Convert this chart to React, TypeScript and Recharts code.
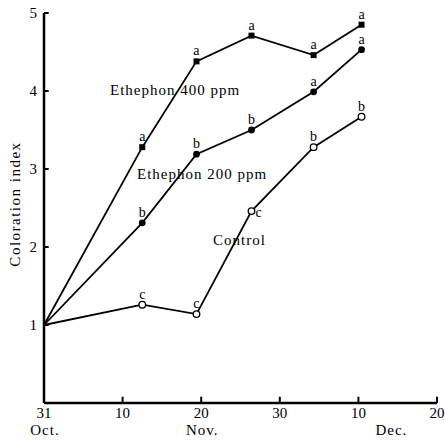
import React from 'react';
import { LineChart, Line, XAxis, YAxis, LabelList, Customized, ReferenceLine } from 'recharts';

// days after 31 Oct
const sampleDays = [0, 12.5, 19.4, 26.4, 34.3, 40.4];
const ethephon400 = [1.0, 3.28, 4.38, 4.71, 4.46, 4.85];
const ethephon200 = [1.0, 2.31, 3.19, 3.5, 3.99, 4.53];
const control = [1.0, 1.26, 1.14, 2.46, 3.28, 3.67];
const letters400 = ['', 'a', 'a', 'a', 'a', 'a'];
const letters200 = ['', 'b', 'b', 'b', 'a', 'a'];
const lettersControl = ['', 'c', 'c', 'c', 'b', 'b'];

const xTicks = [0, 10, 20, 30, 40, 50];
const xTickLabels = ['31', '10', '20', '30', '10', '20'];
const monthNames: Record<number, string> = { 0: 'Oct.', 2: 'Nov.', 4: 'Dec.' };
const yTicks = [1, 2, 3, 4, 5];

const FONT = "'Liberation Serif', 'DejaVu Serif', serif";

const toRows = (vals: number[], sig: string[]) =>
  sampleDays.map((d, i) => ({ day: d, v: vals[i], sig: sig[i] }));

const rows400 = toRows(ethephon400, letters400);
const rows200 = toRows(ethephon200, letters200);
const rowsControl = toRows(control, lettersControl);

const XTick = (props: any) => {
  const { x, y, payload, index } = props;
  const month = monthNames[index];
  return (
    <g>
      <text x={x} y={y + 11} textAnchor="middle" fontFamily={FONT} fontSize={15} fill="#000">
        {xTickLabels[xTicks.indexOf(payload.value)]}
      </text>
      {month && (
        <text
          x={x + (index === 4 ? 33 : 1)}
          y={y + 28}
          textAnchor="middle"
          fontFamily={FONT}
          fontSize={15}
          letterSpacing={1}
          fill="#000"
        >
          {month}
        </text>
      )}
    </g>
  );
};

const YTick = (props: any) => {
  const { x, y, payload } = props;
  return (
    <text x={x - 1} y={y + 5} textAnchor="end" fontFamily={FONT} fontSize={15} fill="#000">
      {payload.value}
    </text>
  );
};

const SquareDot = (props: any) => {
  const { cx, cy, index } = props;
  if (index === 0 || cx == null) return <g key={`s-${index}`} />;
  return <rect key={`s-${index}`} x={cx - 3} y={cy - 3} width={6} height={6} fill="#000" />;
};

const FilledDot = (props: any) => {
  const { cx, cy, index } = props;
  if (index === 0 || cx == null) return <g key={`f-${index}`} />;
  return <circle key={`f-${index}`} cx={cx} cy={cy} r={3.4} fill="#000" />;
};

const OpenDot = (props: any) => {
  const { cx, cy, index } = props;
  if (index === 0 || cx == null) return <g key={`o-${index}`} />;
  return <circle key={`o-${index}`} cx={cx} cy={cy} r={3.3} fill="#fff" stroke="#000" strokeWidth={1.3} />;
};

// significance letters, one point of the control line has its letter on the right
const sigLabel = (rightIndex: number) => (props: any) => {
  const { value, index } = props;
  const x = props.x ?? props.viewBox?.x;
  const y = props.y ?? props.viewBox?.y;
  if (!value) return null;
  if (index === rightIndex) {
    return (
      <text x={x + 4} y={y + 6} fontFamily={FONT} fontSize={14} fill="#000">
        {value}
      </text>
    );
  }
  return (
    <text x={x} y={y - 6} textAnchor="middle" fontFamily={FONT} fontSize={14} fill="#000">
      {value}
    </text>
  );
};

const NameTag = ({ x, y, w, text }: { x: number; y: number; w: number; text: string }) => (
  <g>
    <rect x={x - 2} y={y - 15} width={w + 4} height={20} fill="#fff" />
    <text x={x} y={y} fontFamily={FONT} fontSize={15} letterSpacing={1} fill="#000">
      {text}
    </text>
  </g>
);

const SeriesNames = () => (
  <g>
    <NameTag x={110} y={95} w={130} text="Ethephon 400 ppm" />
    <NameTag x={137} y={179} w={131} text="Ethephon 200 ppm" />
    <NameTag x={213} y={245} w={54} text="Control" />
    <text
      transform="translate(20, 204) rotate(-90)"
      textAnchor="middle"
      fontFamily={FONT}
      fontSize={15}
      letterSpacing={1.5}
      fill="#000"
    >
      Coloration index
    </text>
  </g>
);

export default function App() {
  return (
    <div style={{ position: 'absolute', left: 0, top: 0, width: 445, height: 441, background: '#fff' }}>
      <LineChart width={445} height={441} margin={{ top: 13, right: 8, left: 0, bottom: 0 }}>
        <XAxis
          dataKey="day"
          type="number"
          domain={[0, 50]}
          ticks={xTicks}
          interval={0}
          tick={<XTick />}
          tickLine={false}
          tickSize={0}
          tickMargin={4}
          height={38}
          axisLine={{ stroke: '#000', strokeWidth: 2.5 }}
          allowDuplicatedCategory={false}
        />
        <YAxis
          type="number"
          domain={[0, 5]}
          ticks={yTicks}
          interval={0}
          tick={<YTick />}
          tickLine={false}
          tickSize={0}
          tickMargin={6}
          width={44}
          axisLine={{ stroke: '#000', strokeWidth: 2.5 }}
        />
        {/* inward tick marks */}
        {xTicks.slice(1).map((t) => (
          <ReferenceLine
            key={`xt-${t}`}
            segment={[{ x: t, y: 0 }, { x: t, y: 0.08 }]}
            stroke="#000"
            strokeWidth={2}
            ifOverflow="visible"
          />
        ))}
        {yTicks.map((t) => (
          <ReferenceLine
            key={`yt-${t}`}
            segment={[{ x: 0, y: t }, { x: 0.6, y: t }]}
            stroke="#000"
            strokeWidth={2}
            ifOverflow="visible"
          />
        ))}
        <Line
          data={rows400}
          dataKey="v"
          stroke="#000"
          strokeWidth={1.8}
          dot={SquareDot}
          activeDot={false}
          isAnimationActive={false}
        >
          <LabelList dataKey="sig" content={sigLabel(-1)} />
        </Line>
        <Line
          data={rows200}
          dataKey="v"
          stroke="#000"
          strokeWidth={1.8}
          dot={FilledDot}
          activeDot={false}
          isAnimationActive={false}
        >
          <LabelList dataKey="sig" content={sigLabel(-1)} />
        </Line>
        <Line
          data={rowsControl}
          dataKey="v"
          stroke="#000"
          strokeWidth={1.8}
          dot={OpenDot}
          activeDot={false}
          isAnimationActive={false}
        >
          <LabelList dataKey="sig" content={sigLabel(3)} />
        </Line>
        <Customized component={SeriesNames} />
      </LineChart>
    </div>
  );
}
